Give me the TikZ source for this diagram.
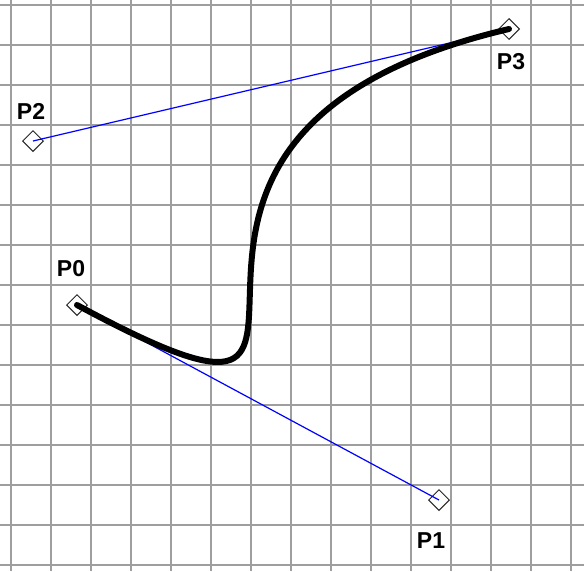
\documentclass[tikz,border=0pt]{standalone}
\usepackage{fontspec}
\setmainfont{Liberation Sans}
\usetikzlibrary{shapes.geometric}
\begin{document}
\begin{tikzpicture}[
  x=1pt, y=-1pt,
  gridline/.style={draw=black!38, line width=2pt},
  handle/.style={draw=black!85, diamond, minimum size=21pt, inner sep=0pt, line width=1pt},
  tag/.style={font=\fontsize{23}{26}\selectfont\bfseries, inner sep=0pt},
  tangent/.style={draw=blue, line width=1.2pt},
  curve/.style={draw=black, line width=6pt, line cap=round}
]
\useasboundingbox[fill=white] (0,0) rectangle (584,571);

% Grid
\foreach \gx in {11,51,...,571} \draw[gridline] (\gx,0) -- (\gx,571);
\foreach \gy in {5,45,...,565} \draw[gridline] (0,\gy) -- (584,\gy);

% Control points
\node[handle] (p0) at (77,305) {};
\node[handle] (p1) at (439,500) {};
\node[handle] (p2) at (33,141) {};
\node[handle] (p3) at (509,29) {};

% Labels
\node[tag] (lp0) at (71,269) {P0};
\node[tag] (lp1) at (431,541) {P1};
\node[tag] (lp2) at (31,111) {P2};
\node[tag] (lp3) at (511,62) {P3};

% Tangents
\draw[tangent] (p0.center) -- (p1.center);
\draw[tangent] (p2.center) -- (p3.center);

% Bezier curve
\draw[curve] (p0.center) .. controls (p1.center) and (p2.center) .. (p3.center);

\end{tikzpicture}
\end{document}
